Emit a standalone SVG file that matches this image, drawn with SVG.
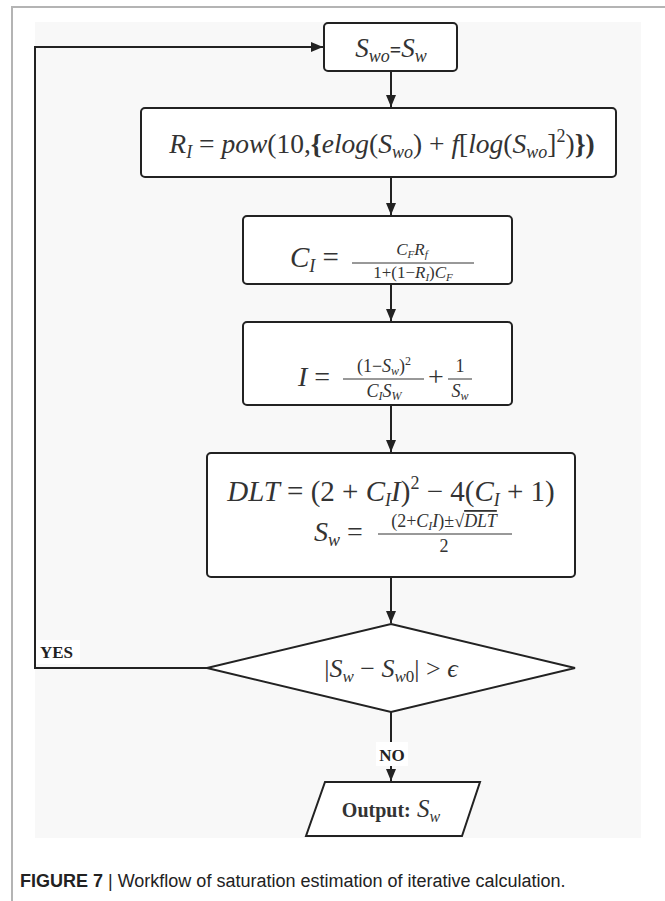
<svg xmlns="http://www.w3.org/2000/svg" width="665" height="901" viewBox="0 0 665 901">
<style>
.frame{fill:none;stroke:#b4b4b4;stroke-width:2}
.box{fill:#fff;stroke:#222;stroke-width:2}
.con{fill:none;stroke:#222;stroke-width:2}
.m{font-family:"Liberation Serif","DejaVu Serif",serif;fill:#333}
.i{font-style:italic}
.lbl{font-family:"Liberation Serif","DejaVu Serif",serif;font-weight:bold;fill:#222;font-size:17px}
.cap{font-family:"Liberation Sans","DejaVu Sans",sans-serif;fill:#222;font-size:18px}
</style>
<defs>
<marker id="ah" markerWidth="12" markerHeight="10" refX="12" refY="5" orient="auto" markerUnits="userSpaceOnUse">
<path d="M0,0 L12,5 L0,10 Z" fill="#222"/>
</marker>
</defs>
<rect width="665" height="901" fill="#fff"/>
<path class="frame" d="M12,901 V7 H665"/>
<rect x="35" y="22" width="606" height="816" fill="#f8f8f8"/>

<g id="connectors">
<path class="con" d="M207,668 H35 V47 H323" marker-end="url(#ah)"/>
<path class="con" d="M391,71 V107" marker-end="url(#ah)"/>
<path class="con" d="M391,177 V215" marker-end="url(#ah)"/>
<path class="con" d="M391,284 V321" marker-end="url(#ah)"/>
<path class="con" d="M391,405 V452" marker-end="url(#ah)"/>
<path class="con" d="M391,577 V623" marker-end="url(#ah)"/>
<path class="con" d="M391,712 V781" marker-end="url(#ah)"/>
<rect x="36" y="640" width="44" height="24" fill="#fff"/>
<text class="lbl" x="40" y="658">YES</text>
<rect x="376" y="742" width="32" height="24" fill="#fff"/>
<text class="lbl" x="392" y="761" text-anchor="middle">NO</text>
</g>

<g id="n1">
<rect class="box" x="324" y="23" width="133" height="48" rx="4"/>
<text class="m" x="391" y="57" text-anchor="middle" font-size="27"><tspan class="i">S</tspan><tspan class="i" font-size="18" dy="5">wo</tspan><tspan dy="-5" font-weight="bold" font-size="20">=</tspan><tspan class="i">S</tspan><tspan class="i" font-size="18" dy="5">w</tspan></text>
</g>

<g id="n2">
<rect class="box" x="141" y="108" width="475" height="69" rx="4"/>
<text class="m" x="382" y="153" text-anchor="middle" font-size="27.5"><tspan class="i">R</tspan><tspan class="i" font-size="18" dy="5">I</tspan><tspan dy="-5"> = </tspan><tspan class="i">pow</tspan>(10,<tspan font-weight="bold">{</tspan><tspan class="i">elog</tspan>(<tspan class="i">S</tspan><tspan class="i" font-size="18" dy="5">wo</tspan><tspan dy="-5">) + </tspan><tspan class="i">f</tspan>[<tspan class="i">log</tspan>(<tspan class="i">S</tspan><tspan class="i" font-size="18" dy="5">wo</tspan><tspan dy="-5">]</tspan><tspan font-size="18" dy="-11">2</tspan><tspan dy="11">)</tspan><tspan font-weight="bold">})</tspan></text>
</g>

<g id="n3">
<rect class="box" x="243" y="216" width="269" height="68" rx="4"/>
<text class="m" x="290" y="267" font-size="29"><tspan class="i">C</tspan><tspan class="i" font-size="18" dy="5">I</tspan><tspan dy="-5"> =</tspan></text>
<text class="m" x="412" y="255" text-anchor="middle" font-size="17"><tspan class="i">C</tspan><tspan class="i" font-size="11" dy="3">F</tspan><tspan class="i" dy="-3">R</tspan><tspan class="i" font-size="11" dy="3">f</tspan></text>
<line x1="352" y1="263" x2="474" y2="263" stroke="#333" stroke-width="1"/>
<text class="m" x="413" y="278" text-anchor="middle" font-size="17">1+(1−<tspan class="i">R</tspan><tspan class="i" font-size="11" dy="3">I</tspan><tspan dy="-3">)</tspan><tspan class="i">C</tspan><tspan class="i" font-size="11" dy="3">F</tspan></text>
</g>

<g id="n4">
<rect class="box" x="243" y="322" width="269" height="83" rx="4"/>
<text class="m" x="298" y="386" font-size="28"><tspan class="i">I</tspan> =</text>
<text class="m" x="384" y="372" text-anchor="middle" font-size="18">(1−<tspan class="i">S</tspan><tspan class="i" font-size="12" dy="3">w</tspan><tspan dy="-3">)</tspan><tspan font-size="12" dy="-7">2</tspan></text>
<line x1="343" y1="379" x2="424" y2="379" stroke="#333" stroke-width="1"/>
<text class="m" x="384" y="397" text-anchor="middle" font-size="18"><tspan class="i">C</tspan><tspan class="i" font-size="12" dy="3">I</tspan><tspan class="i" dy="-3">S</tspan><tspan class="i" font-size="12" dy="3">W</tspan></text>
<text class="m" x="428" y="386" font-size="28">+</text>
<text class="m" x="460" y="372" text-anchor="middle" font-size="18">1</text>
<line x1="448" y1="379" x2="472" y2="379" stroke="#333" stroke-width="1"/>
<text class="m" x="460" y="397" text-anchor="middle" font-size="18"><tspan class="i">S</tspan><tspan class="i" font-size="12" dy="3">w</tspan></text>
</g>

<g id="n5">
<rect class="box" x="207" y="453" width="368" height="124" rx="4"/>
<text class="m" x="391" y="501" text-anchor="middle" font-size="29"><tspan class="i">DLT</tspan> = (2 + <tspan class="i">C</tspan><tspan class="i" font-size="18" dy="5">I</tspan><tspan class="i" dy="-5">I</tspan>)<tspan font-size="18" dy="-12">2</tspan><tspan dy="12"> − 4(</tspan><tspan class="i">C</tspan><tspan class="i" font-size="18" dy="5">I</tspan><tspan dy="-5"> + 1)</tspan></text>
<text class="m" x="314" y="541" font-size="28"><tspan class="i">S</tspan><tspan class="i" font-size="18" dy="5">w</tspan><tspan dy="-5"> =</tspan></text>
<text class="m" x="444" y="527" text-anchor="middle" font-size="18">(2+<tspan class="i">C</tspan><tspan class="i" font-size="12" dy="3">I</tspan><tspan class="i" dy="-3">I</tspan>)±√<tspan class="i" text-decoration="overline">DLT</tspan></text>
<line x1="378" y1="534" x2="512" y2="534" stroke="#333" stroke-width="1"/>
<text class="m" x="444" y="552" text-anchor="middle" font-size="18">2</text>
</g>

<g id="n6">
<polygon class="box" points="391,624 575,668 391,712 207,668"/>
<text class="m" x="391" y="677" text-anchor="middle" font-size="26" fill="#555">|<tspan class="i">S</tspan><tspan class="i" font-size="17" dy="5">w</tspan><tspan dy="-5"> − </tspan><tspan class="i">S</tspan><tspan class="i" font-size="17" dy="5">w</tspan><tspan font-size="17">0</tspan><tspan dy="-5">| &gt; </tspan><tspan class="i">ϵ</tspan></text>
</g>

<g id="n7">
<polygon class="box" points="325,782 480,782 462,836 306,836"/>
<text class="m" x="391" y="817" text-anchor="middle" font-size="20"><tspan font-weight="bold">Output:</tspan><tspan font-size="25"> </tspan><tspan class="i" font-size="25">S</tspan><tspan class="i" font-size="16" dy="5">w</tspan></text>
</g>

<text class="cap" x="20" y="887"><tspan font-weight="bold">FIGURE 7</tspan> | Workflow of saturation estimation of iterative calculation.</text>
</svg>
